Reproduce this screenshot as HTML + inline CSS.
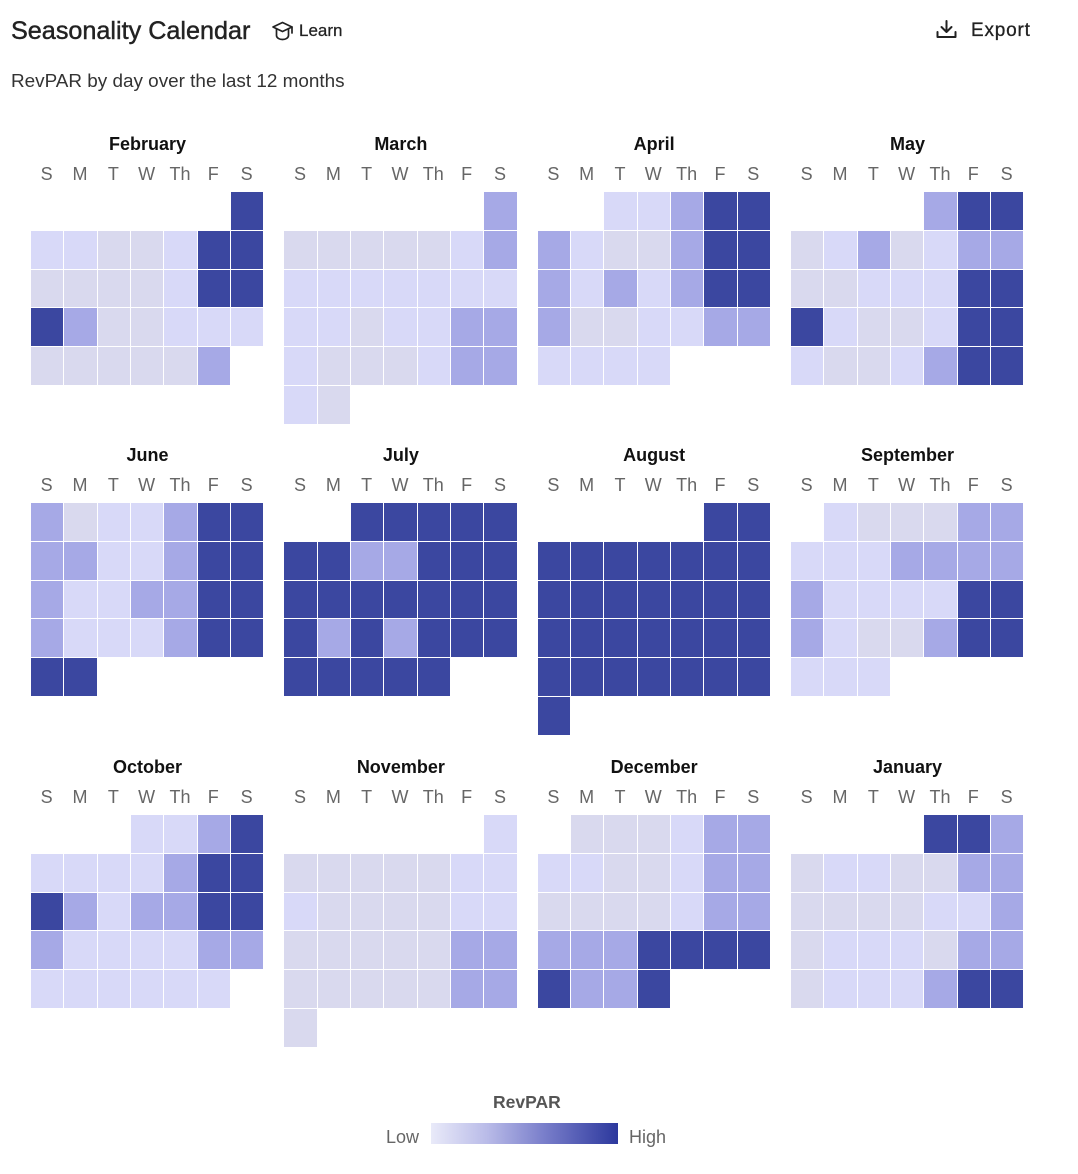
<!DOCTYPE html>
<html><head><meta charset="utf-8">
<style>
*{margin:0;padding:0;box-sizing:border-box}
body{width:1078px;height:1174px;background:#fff;position:relative;overflow:hidden;font-family:"Liberation Sans",Arial,sans-serif;color:#222}
.abs{position:absolute;white-space:nowrap}
.title{left:11px;top:16px;font-size:25.2px;line-height:30px;color:#222;-webkit-text-stroke:0.45px #222}
.learn{left:299px;top:20px;font-size:17px;line-height:22px;color:#222;-webkit-text-stroke:0.25px #222}
.sub{left:11px;top:71px;font-size:18.9px;line-height:22px;color:#333}
.export{left:971px;top:19px;font-size:19px;line-height:24px;letter-spacing:0.8px;color:#222;-webkit-text-stroke:0.3px #222}
.mo{position:absolute;width:233px;height:300px}
.mt{position:absolute;left:0;top:0;width:233px;text-align:center;font-weight:bold;font-size:18px;line-height:24px;color:#111}
.dl{position:absolute;left:0;top:30px;width:233px;display:grid;grid-template-columns:repeat(7,33.33px);font-size:18px;line-height:24px;color:#666;text-align:center}
.dl span{display:block;margin-left:-2px}
.gr{position:absolute;left:0;top:60px;display:grid;grid-template-columns:repeat(7,32.33px);column-gap:1px;grid-auto-rows:37.8px;row-gap:1px}
.gr b{display:block}
.d{background:#3b47a0}
.m{background:#a6a9e6}
.l{background:#d8d9f8}
.g{background:#d9d9ee}
.e{background:transparent}
.leg-t{left:493px;top:1091px;font-size:17.5px;font-weight:bold;line-height:22px;color:#555}
.low{left:386px;top:1126px;font-size:18px;line-height:22px;color:#666}
.high{left:629px;top:1126px;font-size:18px;line-height:22px;color:#666}
.bar{position:absolute;left:431px;top:1123px;width:187px;height:21px;background:linear-gradient(to right,#e9eaf9 0%,#b9bbe8 30%,#7a7fcb 60%,#2c389d 100%)}
</style></head><body>

<div class="abs title">Seasonality Calendar</div>
<svg class="abs" style="left:271px;top:20px" width="23" height="22" viewBox="0 0 23 22">
  <path d="M2 7 L11.5 2.5 L21 7 L11.5 11.5 Z" fill="none" stroke="#222" stroke-width="1.7" stroke-linejoin="round"/>
  <path d="M5.5 9 V15.5 C5.5 18 8.5 19.5 11.5 19.5 C14.5 19.5 17.5 18 17.5 15.5 V9" fill="none" stroke="#222" stroke-width="1.7"/>
  <path d="M21 7 V13" fill="none" stroke="#222" stroke-width="1.7" stroke-linecap="round"/>
</svg>
<div class="abs learn">Learn</div>
<svg class="abs" style="left:936px;top:20px" width="21" height="19" viewBox="0 0 21 19">
  <path d="M10.5 1 V11.5" stroke="#222" stroke-width="2" fill="none" stroke-linecap="round"/>
  <path d="M5.5 7 L10.5 12 L15.5 7" stroke="#222" stroke-width="2" fill="none" stroke-linecap="round" stroke-linejoin="round"/>
  <path d="M1.5 12 V17 H19.5 V12" stroke="#222" stroke-width="2" fill="none" stroke-linecap="round" stroke-linejoin="round"/>
</svg>
<div class="abs export">Export</div>
<div class="abs sub">RevPAR by day over the last 12 months</div>

<!-- Row 1 -->
<div class="mo" style="left:31px;top:132px">
  <div class="mt">February</div>
  <div class="dl"><span>S</span><span>M</span><span>T</span><span>W</span><span>Th</span><span>F</span><span>S</span></div>
  <div class="gr">
    <b class="e"></b><b class="e"></b><b class="e"></b><b class="e"></b><b class="e"></b><b class="e"></b><b class="d"></b>
    <b class="l"></b><b class="l"></b><b class="g"></b><b class="g"></b><b class="l"></b><b class="d"></b><b class="d"></b>
    <b class="g"></b><b class="g"></b><b class="g"></b><b class="g"></b><b class="l"></b><b class="d"></b><b class="d"></b>
    <b class="d"></b><b class="m"></b><b class="g"></b><b class="g"></b><b class="l"></b><b class="l"></b><b class="l"></b>
    <b class="g"></b><b class="g"></b><b class="g"></b><b class="g"></b><b class="g"></b><b class="m"></b>
  </div>
</div>

<div class="mo" style="left:284.33px;top:132px">
  <div class="mt">March</div>
  <div class="dl"><span>S</span><span>M</span><span>T</span><span>W</span><span>Th</span><span>F</span><span>S</span></div>
  <div class="gr">
    <b class="e"></b><b class="e"></b><b class="e"></b><b class="e"></b><b class="e"></b><b class="e"></b><b class="m"></b>
    <b class="g"></b><b class="g"></b><b class="g"></b><b class="g"></b><b class="g"></b><b class="l"></b><b class="m"></b>
    <b class="l"></b><b class="l"></b><b class="l"></b><b class="l"></b><b class="l"></b><b class="l"></b><b class="l"></b>
    <b class="l"></b><b class="l"></b><b class="g"></b><b class="l"></b><b class="l"></b><b class="m"></b><b class="m"></b>
    <b class="l"></b><b class="g"></b><b class="g"></b><b class="g"></b><b class="l"></b><b class="m"></b><b class="m"></b>
    <b class="l"></b><b class="g"></b>
  </div>
</div>

<div class="mo" style="left:537.67px;top:132px">
  <div class="mt">April</div>
  <div class="dl"><span>S</span><span>M</span><span>T</span><span>W</span><span>Th</span><span>F</span><span>S</span></div>
  <div class="gr">
    <b class="e"></b><b class="e"></b><b class="l"></b><b class="l"></b><b class="m"></b><b class="d"></b><b class="d"></b>
    <b class="m"></b><b class="l"></b><b class="g"></b><b class="g"></b><b class="m"></b><b class="d"></b><b class="d"></b>
    <b class="m"></b><b class="l"></b><b class="m"></b><b class="l"></b><b class="m"></b><b class="d"></b><b class="d"></b>
    <b class="m"></b><b class="g"></b><b class="g"></b><b class="l"></b><b class="l"></b><b class="m"></b><b class="m"></b>
    <b class="l"></b><b class="l"></b><b class="l"></b><b class="l"></b>
  </div>
</div>

<div class="mo" style="left:791px;top:132px">
  <div class="mt">May</div>
  <div class="dl"><span>S</span><span>M</span><span>T</span><span>W</span><span>Th</span><span>F</span><span>S</span></div>
  <div class="gr">
    <b class="e"></b><b class="e"></b><b class="e"></b><b class="e"></b><b class="m"></b><b class="d"></b><b class="d"></b>
    <b class="g"></b><b class="l"></b><b class="m"></b><b class="g"></b><b class="l"></b><b class="m"></b><b class="m"></b>
    <b class="g"></b><b class="g"></b><b class="l"></b><b class="l"></b><b class="l"></b><b class="d"></b><b class="d"></b>
    <b class="d"></b><b class="l"></b><b class="g"></b><b class="g"></b><b class="l"></b><b class="d"></b><b class="d"></b>
    <b class="l"></b><b class="g"></b><b class="g"></b><b class="l"></b><b class="m"></b><b class="d"></b><b class="d"></b>
  </div>
</div>

<!-- Row 2 -->
<div class="mo" style="left:31px;top:443px">
  <div class="mt">June</div>
  <div class="dl"><span>S</span><span>M</span><span>T</span><span>W</span><span>Th</span><span>F</span><span>S</span></div>
  <div class="gr">
    <b class="m"></b><b class="g"></b><b class="l"></b><b class="l"></b><b class="m"></b><b class="d"></b><b class="d"></b>
    <b class="m"></b><b class="m"></b><b class="l"></b><b class="l"></b><b class="m"></b><b class="d"></b><b class="d"></b>
    <b class="m"></b><b class="l"></b><b class="l"></b><b class="m"></b><b class="m"></b><b class="d"></b><b class="d"></b>
    <b class="m"></b><b class="l"></b><b class="l"></b><b class="l"></b><b class="m"></b><b class="d"></b><b class="d"></b>
    <b class="d"></b><b class="d"></b>
  </div>
</div>

<div class="mo" style="left:284.33px;top:443px">
  <div class="mt">July</div>
  <div class="dl"><span>S</span><span>M</span><span>T</span><span>W</span><span>Th</span><span>F</span><span>S</span></div>
  <div class="gr">
    <b class="e"></b><b class="e"></b><b class="d"></b><b class="d"></b><b class="d"></b><b class="d"></b><b class="d"></b>
    <b class="d"></b><b class="d"></b><b class="m"></b><b class="m"></b><b class="d"></b><b class="d"></b><b class="d"></b>
    <b class="d"></b><b class="d"></b><b class="d"></b><b class="d"></b><b class="d"></b><b class="d"></b><b class="d"></b>
    <b class="d"></b><b class="m"></b><b class="d"></b><b class="m"></b><b class="d"></b><b class="d"></b><b class="d"></b>
    <b class="d"></b><b class="d"></b><b class="d"></b><b class="d"></b><b class="d"></b>
  </div>
</div>

<div class="mo" style="left:537.67px;top:443px">
  <div class="mt">August</div>
  <div class="dl"><span>S</span><span>M</span><span>T</span><span>W</span><span>Th</span><span>F</span><span>S</span></div>
  <div class="gr">
    <b class="e"></b><b class="e"></b><b class="e"></b><b class="e"></b><b class="e"></b><b class="d"></b><b class="d"></b>
    <b class="d"></b><b class="d"></b><b class="d"></b><b class="d"></b><b class="d"></b><b class="d"></b><b class="d"></b>
    <b class="d"></b><b class="d"></b><b class="d"></b><b class="d"></b><b class="d"></b><b class="d"></b><b class="d"></b>
    <b class="d"></b><b class="d"></b><b class="d"></b><b class="d"></b><b class="d"></b><b class="d"></b><b class="d"></b>
    <b class="d"></b><b class="d"></b><b class="d"></b><b class="d"></b><b class="d"></b><b class="d"></b><b class="d"></b>
    <b class="d"></b>
  </div>
</div>

<div class="mo" style="left:791px;top:443px">
  <div class="mt">September</div>
  <div class="dl"><span>S</span><span>M</span><span>T</span><span>W</span><span>Th</span><span>F</span><span>S</span></div>
  <div class="gr">
    <b class="e"></b><b class="l"></b><b class="g"></b><b class="g"></b><b class="g"></b><b class="m"></b><b class="m"></b>
    <b class="l"></b><b class="l"></b><b class="l"></b><b class="m"></b><b class="m"></b><b class="m"></b><b class="m"></b>
    <b class="m"></b><b class="l"></b><b class="l"></b><b class="l"></b><b class="l"></b><b class="d"></b><b class="d"></b>
    <b class="m"></b><b class="l"></b><b class="g"></b><b class="g"></b><b class="m"></b><b class="d"></b><b class="d"></b>
    <b class="l"></b><b class="l"></b><b class="l"></b>
  </div>
</div>

<!-- Row 3 -->
<div class="mo" style="left:31px;top:755px">
  <div class="mt">October</div>
  <div class="dl"><span>S</span><span>M</span><span>T</span><span>W</span><span>Th</span><span>F</span><span>S</span></div>
  <div class="gr">
    <b class="e"></b><b class="e"></b><b class="e"></b><b class="l"></b><b class="l"></b><b class="m"></b><b class="d"></b>
    <b class="l"></b><b class="l"></b><b class="l"></b><b class="l"></b><b class="m"></b><b class="d"></b><b class="d"></b>
    <b class="d"></b><b class="m"></b><b class="l"></b><b class="m"></b><b class="m"></b><b class="d"></b><b class="d"></b>
    <b class="m"></b><b class="l"></b><b class="l"></b><b class="l"></b><b class="l"></b><b class="m"></b><b class="m"></b>
    <b class="l"></b><b class="l"></b><b class="l"></b><b class="l"></b><b class="l"></b><b class="l"></b>
  </div>
</div>

<div class="mo" style="left:284.33px;top:755px">
  <div class="mt">November</div>
  <div class="dl"><span>S</span><span>M</span><span>T</span><span>W</span><span>Th</span><span>F</span><span>S</span></div>
  <div class="gr">
    <b class="e"></b><b class="e"></b><b class="e"></b><b class="e"></b><b class="e"></b><b class="e"></b><b class="l"></b>
    <b class="g"></b><b class="g"></b><b class="g"></b><b class="g"></b><b class="g"></b><b class="l"></b><b class="l"></b>
    <b class="l"></b><b class="g"></b><b class="g"></b><b class="g"></b><b class="g"></b><b class="l"></b><b class="l"></b>
    <b class="g"></b><b class="g"></b><b class="g"></b><b class="g"></b><b class="g"></b><b class="m"></b><b class="m"></b>
    <b class="g"></b><b class="g"></b><b class="g"></b><b class="g"></b><b class="g"></b><b class="m"></b><b class="m"></b>
    <b class="g"></b>
  </div>
</div>

<div class="mo" style="left:537.67px;top:755px">
  <div class="mt">December</div>
  <div class="dl"><span>S</span><span>M</span><span>T</span><span>W</span><span>Th</span><span>F</span><span>S</span></div>
  <div class="gr">
    <b class="e"></b><b class="g"></b><b class="g"></b><b class="g"></b><b class="l"></b><b class="m"></b><b class="m"></b>
    <b class="l"></b><b class="l"></b><b class="g"></b><b class="g"></b><b class="l"></b><b class="m"></b><b class="m"></b>
    <b class="g"></b><b class="g"></b><b class="g"></b><b class="g"></b><b class="l"></b><b class="m"></b><b class="m"></b>
    <b class="m"></b><b class="m"></b><b class="m"></b><b class="d"></b><b class="d"></b><b class="d"></b><b class="d"></b>
    <b class="d"></b><b class="m"></b><b class="m"></b><b class="d"></b>
  </div>
</div>

<div class="mo" style="left:791px;top:755px">
  <div class="mt">January</div>
  <div class="dl"><span>S</span><span>M</span><span>T</span><span>W</span><span>Th</span><span>F</span><span>S</span></div>
  <div class="gr">
    <b class="e"></b><b class="e"></b><b class="e"></b><b class="e"></b><b class="d"></b><b class="d"></b><b class="m"></b>
    <b class="g"></b><b class="l"></b><b class="l"></b><b class="g"></b><b class="g"></b><b class="m"></b><b class="m"></b>
    <b class="g"></b><b class="g"></b><b class="g"></b><b class="g"></b><b class="l"></b><b class="l"></b><b class="m"></b>
    <b class="g"></b><b class="l"></b><b class="l"></b><b class="l"></b><b class="g"></b><b class="m"></b><b class="m"></b>
    <b class="g"></b><b class="l"></b><b class="l"></b><b class="l"></b><b class="m"></b><b class="d"></b><b class="d"></b>
  </div>
</div>

<!-- Legend -->
<div class="abs leg-t">RevPAR</div>
<div class="abs low">Low</div>
<div class="bar"></div>
<div class="abs high">High</div>

</body></html>
